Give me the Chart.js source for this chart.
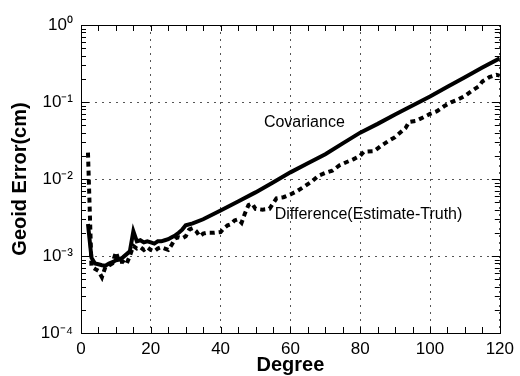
<!DOCTYPE html>
<html>
<head>
<meta charset="utf-8">
<script src="https://cdn.jsdelivr.net/npm/chart.js@4/dist/chart.umd.min.js"></script>
<style>
  html, body { margin: 0; padding: 0; background: #fff; }
  canvas { display: block; }
</style>
</head>
<body>
<canvas id="c" width="520" height="376"></canvas>
<script>
// ---- data ----
const covDegree = [2,3,4,5,6,7,8,9,10,11,12,13,14,15,16,17,18,19,20,21,22,23,24,25,26,27,28,29,30,32,35,40,45,50,55,60,65,70,75,80,85,90,95,100,105,110,115,120];
const covValue  = [2.6e-3,9.5e-4,8.0e-4,7.8e-4,7.6e-4,7.5e-4,8.0e-4,8.3e-4,8.8e-4,9.0e-4,9.6e-4,1.05e-3,1.15e-3,2.1e-3,1.55e-3,1.6e-3,1.5e-3,1.55e-3,1.5e-3,1.45e-3,1.55e-3,1.55e-3,1.6e-3,1.65e-3,1.75e-3,1.85e-3,2.0e-3,2.2e-3,2.5e-3,2.65e-3,3.0e-3,3.9e-3,5.1e-3,6.7e-3,9.0e-3,0.0122,0.016,0.021,0.029,0.040,0.052,0.069,0.090,0.118,0.158,0.21,0.28,0.37];

const diffDegree = [2,3,4,5,6,7,8,9,10,11,12,13,14,15,16,17,18,19,20,21,22,23,24,25,26,27,28,29,30,31,32,33,34,35,36,38,40,41,42,43,44,45,46,47,48,49,50,52,54,56,58,60,62,64,66,68,70,72,74,76,78,80,81,84,86,88,90,92,93,94,96,98,100,102,104,106,108,110,112,114,115,117,119,120];
const diffValue  = [0.022,7.3e-4,6.8e-4,6.4e-4,5.3e-4,7.2e-4,7.5e-4,8.0e-4,1.12e-3,8.3e-4,8.5e-4,7.8e-4,1.0e-3,1.35e-3,1.25e-3,1.3e-3,1.2e-3,1.3e-3,1.2e-3,1.15e-3,1.25e-3,1.3e-3,1.25e-3,1.2e-3,1.4e-3,1.7e-3,1.75e-3,1.7e-3,1.8e-3,2.2e-3,2.3e-3,2.1e-3,1.8e-3,1.95e-3,2.0e-3,2.0e-3,2.05e-3,2.3e-3,2.5e-3,2.6e-3,2.9e-3,3.0e-3,2.7e-3,3.6e-3,4.6e-3,4.8e-3,4.1e-3,4.0e-3,4.1e-3,5.6e-3,5.8e-3,6.3e-3,7.0e-3,8.0e-3,9.2e-3,0.011,0.012,0.0128,0.015,0.0165,0.018,0.020,0.0225,0.023,0.027,0.031,0.035,0.042,0.046,0.055,0.057,0.063,0.070,0.076,0.088,0.099,0.108,0.120,0.140,0.160,0.185,0.210,0.225,0.22];

const xTickValues = [0,20,40,60,80,100,120];
const yTickExponents = [-4,-3,-2,-1,0];
const seriesNames = ['Covariance','Difference(Estimate-Truth)'];

const supMap = {'-':'\u207B','0':'\u2070','1':'\u00B9','2':'\u00B2','3':'\u00B3','4':'\u2074'};
const sup = s => String(s).split('').map(ch => supMap[ch] || ch).join('');

const FONT = '"Liberation Sans", Arial, Helvetica, sans-serif';

const decor = {
  id: 'decor',
  afterDraw(chart, args, opts) {
    const {ctx, chartArea: a, scales: {x, y}} = chart;
    ctx.save();
    ctx.strokeStyle = '#000';
    ctx.lineWidth = 1;
    ctx.setLineDash([]);
    ctx.strokeRect(Math.round(a.left) + 0.5, Math.round(a.top) + 0.5,
                   Math.round(a.right - a.left), Math.round(a.bottom - a.top));
    ctx.beginPath();
    for (let v = x.min; v <= x.max; v += opts.xMinorStep) {
      const px = Math.round(x.getPixelForValue(v)) + 0.5;
      ctx.moveTo(px, a.bottom); ctx.lineTo(px, a.bottom - 6);
      ctx.moveTo(px, a.top); ctx.lineTo(px, a.top + 6);
    }
    for (let e = -4; e < 0; e++) {
      for (let m = 1; m <= 9; m++) {
        const py = Math.round(y.getPixelForValue(m * Math.pow(10, e))) + 0.5;
        const len = m === 1 ? 8 : 5;
        ctx.moveTo(a.left, py); ctx.lineTo(a.left + len, py);
        ctx.moveTo(a.right, py); ctx.lineTo(a.right - len, py);
      }
    }
    ctx.stroke();
    ctx.fillStyle = '#000';
    ctx.font = '16px ' + FONT;
    ctx.textBaseline = 'middle';
    ctx.textAlign = 'left';
    opts.labels.forEach(l => {
      ctx.fillText(l.text, x.getPixelForValue(l.x), y.getPixelForValue(l.y));
    });
    ctx.restore();
  }
};

new Chart(document.getElementById('c'), {
  type: 'line',
  data: {
    datasets: [
      {
        label: seriesNames[0],
        data: covDegree.map((d, i) => ({x: d, y: covValue[i]})),
        borderColor: '#000',
        borderWidth: 4,
        pointRadius: 0,
        tension: 0,
        fill: false
      },
      {
        label: seriesNames[1],
        data: diffDegree.map((d, i) => ({x: d, y: diffValue[i]})),
        borderColor: '#000',
        borderWidth: 4,
        borderDash: [5, 4],
        pointRadius: 0,
        tension: 0,
        fill: false
      }
    ]
  },
  options: {
    responsive: false,
    animation: false,
    devicePixelRatio: 1,
    layout: { padding: { top: 25, right: 14, left: 0, bottom: 0 } },
    plugins: {
      legend: { display: false },
      tooltip: { enabled: false },
      decor: {
        xMinorStep: 5,
        labels: [
          { text: seriesNames[0], x: 52.4, y: 0.054 },
          { text: seriesNames[1], x: 55.5, y: 3.5e-3 }
        ]
      }
    },
    scales: {
      x: {
        type: 'linear',
        min: 0, max: 120,
        afterBuildTicks: s => { s.ticks = xTickValues.map(v => ({value: v})); },
        afterFit: s => { s.height = 43; },
        ticks: { color: '#000', font: { family: FONT, size: 17 }, padding: 6, maxRotation: 0 },
        grid: { color: '#555', lineWidth: 1, drawTicks: false },
        border: { display: false, dash: [2, 5] },
        title: { display: true, text: 'Degree', color: '#000',
                 font: { family: FONT, size: 20, weight: 'bold' }, padding: { top: 0, bottom: -1 } }
      },
      y: {
        type: 'logarithmic',
        min: 1e-4, max: 1,
        afterBuildTicks: s => { s.ticks = yTickExponents.map(e => ({value: Math.pow(10, e)})); },
        afterFit: s => { s.width = 81; },
        ticks: {
          color: '#000', font: { family: FONT, size: 17 }, padding: 8,
          callback: v => '10' + sup(Math.round(Math.log10(v)))
        },
        grid: { color: '#555', lineWidth: 1, drawTicks: false },
        border: { display: false, dash: [2, 5] },
        title: { display: true, text: 'Geoid Error(cm)', color: '#000',
                 font: { family: FONT, size: 20, weight: 'bold' }, padding: { top: 8, bottom: 0 } }
      }
    }
  },
  plugins: [decor]
});
</script>
</body>
</html>
